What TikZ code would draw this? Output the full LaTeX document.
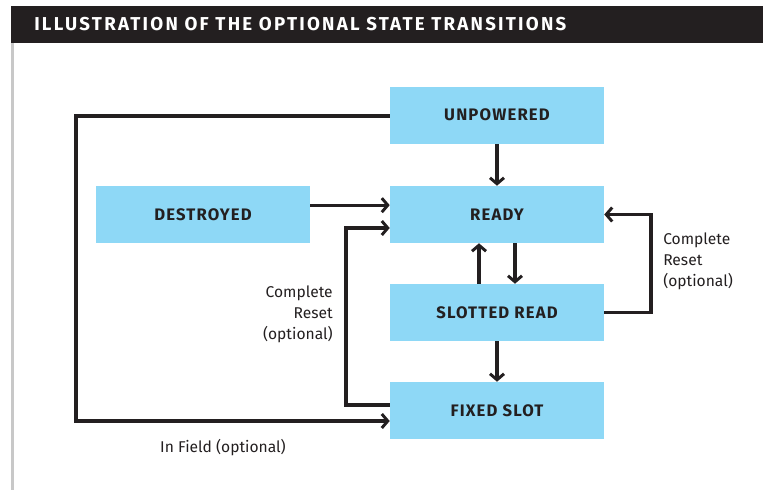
\documentclass[tikz,border=0pt]{standalone}
\usepackage{fontspec}
\setmainfont{Fira Sans}
\usetikzlibrary{arrows.meta}
\definecolor{boxblue}{RGB}{142,216,246}
\definecolor{ink}{RGB}{35,31,32}
\definecolor{rule}{RGB}{200,200,200}
\tikzset{
  px/.style={x=0.75pt,y=-0.75pt},
  state/.style={fill=boxblue,draw=none,minimum width=160.5pt,minimum height=42.75pt,
    inner sep=0pt,font=\fontsize{12.5}{14}\selectfont\bfseries\addfontfeature{LetterSpace=7},text=ink},
  conn/.style={draw=ink,line width=2.4pt,-{Straight Barb[length=4.5pt,width=10.5pt,line width=2.2pt]}},
  lbl/.style={font=\fontsize{11.7}{15.75}\selectfont,text=ink,inner sep=0pt},
}
\begin{document}
\begin{tikzpicture}[px]
\useasboundingbox (0,0) rectangle (763,490);
\fill[ink] (11,6) rectangle (763,43);
\node[anchor=west,text=white,font=\fontsize{14}{16}\selectfont\bfseries\addfontfeature{LetterSpace=12},inner sep=0pt] (title) at (34,24.5) {ILLUSTRATION OF THE OPTIONAL STATE TRANSITIONS};
\fill[rule] (11,43) rectangle (14,490);

\node[state] (unp) at (497,115) {UNPOWERED};
\node[state] (ready) at (497,214.5) {READY};
\node[state] (slot) at (497,312.5) {SLOTTED READ};
\node[state] (fixed) at (497,410.5) {FIXED SLOT};
\node[state] (dest) at (203,214.5) {DESTROYED};

\draw[conn] (unp) -- (ready);
\draw[conn] ([xshift=13.5pt]ready.south) -- ([xshift=13.5pt]slot.north);
\draw[conn] ([xshift=-13.5pt]slot.north) -- ([xshift=-13.5pt]ready.south);
\draw[conn] (slot) -- (fixed);
\draw[conn] ([yshift=7pt]dest.east) -- ([yshift=7pt]ready.west);

\coordinate (lt) at (346,228);
\coordinate (lb) at (346,405);
\draw[conn] (fixed.west |- lb) -- (lb) -- (lt) -- (ready.west |- lt);

\coordinate (rt) at (651,214.5);
\coordinate (rb) at (651,312.5);
\draw[conn] (slot.east) -- (rb) -- (rt) -- (ready.east);

\coordinate (ft) at (76,116);
\coordinate (fb) at (76,421);
\draw[conn] (unp.west |- ft) -- (ft) -- (fb) -- (fixed.west |- fb);

\node[lbl,align=right,anchor=east] (lbl1) at (333,314) {Complete\\Reset\\(optional)};
\node[lbl,align=left,anchor=west] (lbl2) at (663,261) {Complete\\Reset\\(optional)};
\node[lbl] (lbl3) at (223,448) {In Field (optional)};
\end{tikzpicture}
\end{document}
